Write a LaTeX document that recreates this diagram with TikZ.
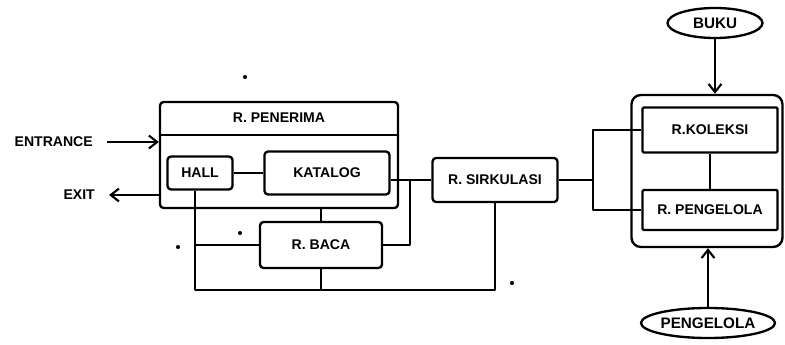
\documentclass[tikz,border=0pt]{standalone}
\usepackage{fontspec}
\setmainfont{Liberation Sans}
\usetikzlibrary{arrows.meta,shapes.geometric}
\begin{document}
\begin{tikzpicture}[x=0.03cm,y=-0.03cm,
  every node/.style={font=\fontsize{12}{12}\selectfont\bfseries},
  line/.style={line width=2pt, line join=round},
  box/.style={line, draw, rounded corners=3pt, inner sep=0pt},
  oval/.style={line, draw, ellipse, inner sep=0pt, font=\fontsize{13}{13}\selectfont\bfseries},
  arr/.style={line, -{Straight Barb[length=7pt,width=11pt,line width=1.8pt]}},
  lbl/.style={inner sep=0pt},
  speck/.style={fill, circle, inner sep=0pt, minimum size=3.5pt}]
\useasboundingbox (0,0) rectangle (785,345);
% left group
\node[box, minimum width=7.14cm, minimum height=3.18cm] (pen) at (279,155) {};
\node[lbl] (penl) at (279,118) {R. PENERIMA};
\draw[line] (pen.west |- 0,135) -- (pen.east |- 0,135);
\node[box, minimum width=1.95cm, minimum height=0.99cm] (hall) at (200,173) {HALL};
\node[box, minimum width=3.75cm, minimum height=1.29cm] (kat) at (327,173) {KATALOG};
\node[box, minimum width=3.75cm, minimum height=1.32cm] (sirk) at (495,180) {R. SIRKULASI};
\node[box, minimum width=3.66cm, minimum height=1.38cm] (baca) at (321,245) {R. BACA};
\node[lbl, anchor=east] (ent) at (93,142) {ENTRANCE};
\node[lbl, anchor=east] (exit) at (95,195) {EXIT};
% right group
\node[box, rounded corners=8pt, minimum width=4.53cm, minimum height=4.56cm] (out) at (707,171) {};
\node[box, rounded corners=1pt, minimum width=4.05cm, minimum height=1.35cm] (kol) at (710,130) {R.KOLEKSI};
\node[box, rounded corners=1pt, minimum width=4.05cm, minimum height=1.2cm] (peng) at (710,210) {R. PENGELOLA};
\node[oval, minimum width=2.85cm, minimum height=0.9cm] (buku) at (715,23) {BUKU};
\node[oval, minimum width=3.99cm, minimum height=0.9cm] (pgl) at (708,323) {PENGELOLA};
% connectors
\draw[arr] ([xshift=12pt]ent.east) -- (ent.east -| pen.west);
\draw[arr] (pen.west |- exit.east) -- ([xshift=12pt]exit.east);
\draw[line] (hall) -- (kat);
\draw[line] (kat.east |- sirk.west) -- (sirk.west);
\coordinate (j1) at (410,180);
\draw[line] (baca.east) -| (j1);
\draw[line] (baca.north) -- (baca.north |- pen.south);
\coordinate (bl) at (195,290);
\draw[line] (hall.south -| bl) -- (bl) -| (sirk.south);
\draw[line] (bl |- baca.west) -- (baca.west);
\draw[line] (baca.south) -- (baca.south |- bl);
\coordinate (j2) at (593,180);
\draw[line] (sirk.east) -- (j2);
\draw[line] (kol.west) -| (j2) |- (peng.west);
\draw[line] (kol) -- (peng);
\draw[arr] (buku.south) -- (buku.south |- out.north);
\draw[arr] (pgl.north) -- (pgl.north |- out.south);
% specks
\node[speck] (s1) at (245,77) {};
\node[speck] (s2) at (240,233) {};
\node[speck] (s3) at (178,247) {};
\node[speck] (s4) at (512,283) {};
\end{tikzpicture}
\end{document}
